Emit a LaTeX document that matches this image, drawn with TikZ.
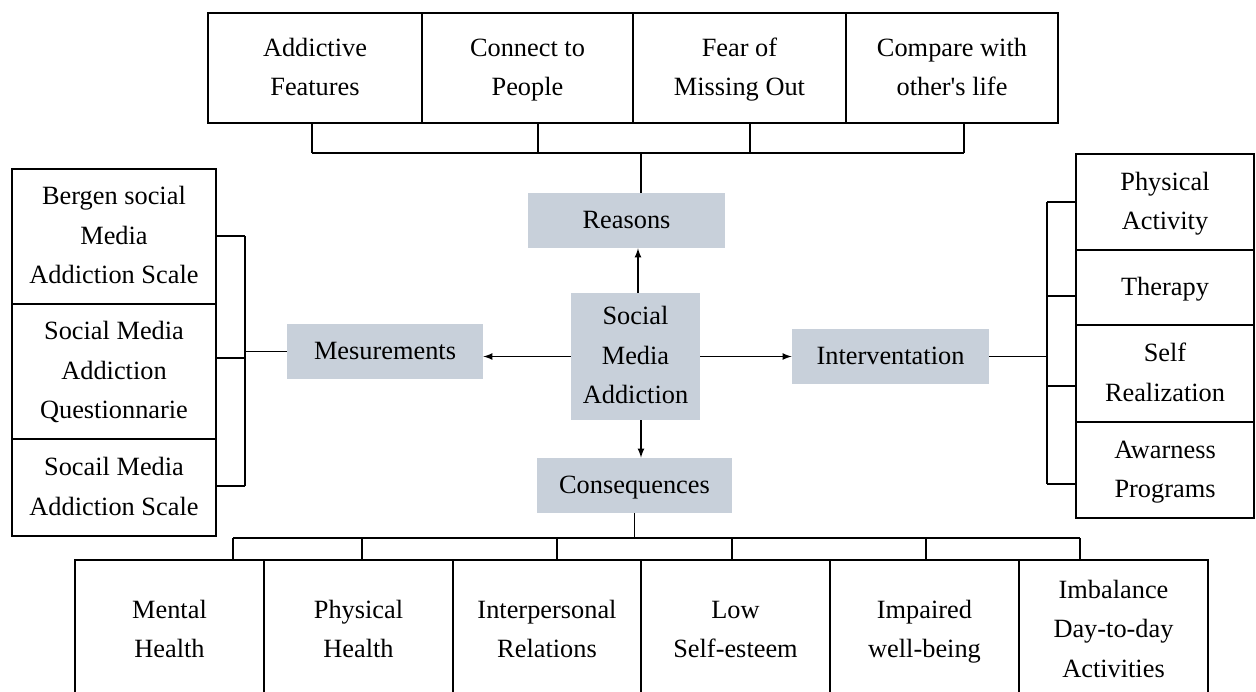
\documentclass[tikz,border=0pt]{standalone}
\usepackage{fontspec}
\setmainfont{Liberation Serif}
\definecolor{greybox}{RGB}{200,208,218}
\newcommand\boxlines[1]{\begin{tabular}{@{}c@{}}#1\end{tabular}}
\tikzset{
  topic/.style={draw,line width=1.1pt,inner sep=0pt,
    font=\fontsize{15}{22.5}\selectfont},
  hub/.style={fill=greybox,inner sep=0pt,
    font=\fontsize{15}{22.5}\selectfont},
  link/.style={line width=0.8pt},
}
\begin{document}
\begin{tikzpicture}[x=0.02cm,y=-0.02cm]
  \path[use as bounding box,clip] (0,0) rectangle (1256,691);
  % centre
  \node[hub,minimum width=2.58cm,minimum height=2.54cm] (sma) at (635.5,356.5) {\boxlines{Social\\Media\\Addiction}};
  \node[hub,minimum width=3.94cm,minimum height=1.1cm] (reas) at (626.5,220.5) {\boxlines{Reasons}};
  \node[hub,minimum width=3.92cm,minimum height=1.1cm] (mesu) at (385,351.5) {\boxlines{Mesurements}};
  \node[hub,minimum width=3.94cm,minimum height=1.1cm] (inter) at (890.5,356.5) {\boxlines{Interventation}};
  \node[hub,minimum width=3.9cm,minimum height=1.1cm] (cons) at (634.5,485.5) {\boxlines{Consequences}};
  % reasons
  \node[topic,minimum width=4.28cm,minimum height=2.2cm] (feat) at (315,68) {\boxlines{Addictive\\Features}};
  \node[topic,minimum width=4.22cm,minimum height=2.2cm] (conn) at (527.5,68) {\boxlines{Connect to\\People}};
  \node[topic,minimum width=4.26cm,minimum height=2.2cm] (fomo) at (739.5,68) {\boxlines{Fear of\\Missing Out}};
  \node[topic,minimum width=4.24cm,minimum height=2.2cm] (comp) at (952,68) {\boxlines{Compare with\\other\textquotesingle s life}};
  % measurements
  \node[topic,minimum width=4.08cm,minimum height=2.7cm] (bsmas) at (114,236.5) {\boxlines{Bergen social\\Media\\Addiction Scale}};
  \node[topic,minimum width=4.08cm,minimum height=2.7cm] (smaq) at (114,371.5) {\boxlines{Social Media\\Addiction\\Questionnarie}};
  \node[topic,minimum width=4.08cm,minimum height=1.94cm] (smas) at (114,487.5) {\boxlines{Socail Media\\Addiction Scale}};
  % interventions
  \node[topic,minimum width=3.56cm,minimum height=1.92cm] (phys) at (1165,202) {\boxlines{Physical\\Activity}};
  \node[topic,minimum width=3.56cm,minimum height=1.5cm] (ther) at (1165,287.5) {\boxlines{Therapy}};
  \node[topic,minimum width=3.56cm,minimum height=1.94cm] (self) at (1165,373.5) {\boxlines{Self\\Realization}};
  \node[topic,minimum width=3.56cm,minimum height=1.92cm] (awar) at (1165,470) {\boxlines{Awarness\\Programs}};
  % consequences
  \node[topic,minimum width=3.78cm,minimum height=2.8cm] (ment) at (169.5,630) {\boxlines{Mental\\Health}};
  \node[topic,minimum width=3.78cm,minimum height=2.8cm] (phyh) at (358.5,630) {\boxlines{Physical\\Health}};
  \node[topic,minimum width=3.76cm,minimum height=2.8cm] (intp) at (547,630) {\boxlines{Interpersonal\\Relations}};
  \node[topic,minimum width=3.78cm,minimum height=2.8cm] (lows) at (735.5,630) {\boxlines{Low\\Self-esteem}};
  \node[topic,minimum width=3.78cm,minimum height=2.8cm] (impa) at (924.5,630) {\boxlines{Impaired\\well-being}};
  \node[topic,minimum width=3.78cm,minimum height=2.8cm] (imba) at (1113.5,630) {\boxlines{Imbalance\\Day-to-day\\Activities}};
  % arrows from the centre
  \draw[link,-latex] (638,293) -- (638,0 |- reas.south);
  \draw[link,-latex] (641,420) -- (641,0 |- cons.north);
  \draw[link,-latex] (sma.west) -- (sma.west -| mesu.east);
  \draw[link,-latex] (sma.east) -- (sma.east -| inter.west);
  % brackets
  \draw[link] (641,153) -- (641,0 |- reas.north);
  \draw[link] (312,153) -- (964,153);
  \foreach \x in {312,538,750,964}
    \draw[link] (\x,153) -- (\x,0 |- feat.south);
  \draw[link] (mesu.west) -- (245,0 |- mesu.west);
  \draw[link] (245,236) -- (245,486);
  \foreach \y in {236,358,486}
    \draw[link] (245,\y) -- (bsmas.east |- 0,\y);
  \draw[link] (inter.east) -- (1047,0 |- inter.east);
  \draw[link] (1047,202) -- (1047,484);
  \foreach \y in {202,296,386,484}
    \draw[link] (1047,\y) -- (phys.west |- 0,\y);
  \draw[link] (cons.south) -- (cons.south |- 0,538);
  \draw[link] (233,538) -- (1080,538);
  \foreach \x in {233,362,557,732,926,1080}
    \draw[link] (\x,538) -- (\x,0 |- ment.north);
\end{tikzpicture}
\end{document}
